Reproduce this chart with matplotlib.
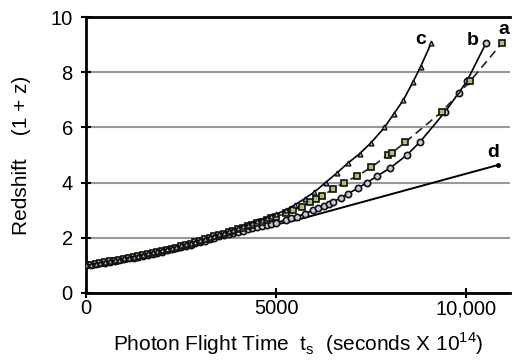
import matplotlib.pyplot as plt

plt.rcParams['font.family'] = ['Liberation Sans', 'DejaVu Sans']

# shared sample times for the dense low part (0 .. 5000)
t_low = [0, 125, 250, 375, 500, 625, 750, 875, 1000, 1125, 1250, 1375, 1500, 1625, 1750,
         1875, 2000, 2125, 2250, 2375, 2500, 2625, 2750, 2875, 3000, 3125, 3250, 3375, 3500,
         3625, 3750, 3875, 4000, 4125, 4250, 4375, 4500, 4625, 4750, 4875, 5000]

# curve c (triangles)
t_c = t_low + [5250, 5500, 5750, 6000, 6300, 6600, 6900, 7200, 7500, 7850, 8100, 8350,
               8600, 8800, 9080]
z_c = [1.00, 1.03, 1.06, 1.09, 1.12, 1.15, 1.18, 1.21, 1.25, 1.28, 1.32, 1.35, 1.39, 1.43,
       1.47, 1.51, 1.55, 1.59, 1.63, 1.67, 1.72, 1.76, 1.81, 1.86, 1.91, 1.96, 2.02, 2.07,
       2.12, 2.17, 2.23, 2.29, 2.35, 2.41, 2.48, 2.54, 2.60, 2.66, 2.73, 2.79, 2.86,
       3.00, 3.20, 3.42, 3.65, 4.00, 4.35, 4.72, 5.05, 5.45, 6.00, 6.50, 7.00, 7.65, 8.20, 9.06]

# curve a (squares, dashed)
t_a = t_low + [5250, 5450, 5675, 5900, 6050, 6200, 6500, 6780, 7120, 7500, 7930, 8050,
               8400, 9360, 10105, 10947]
z_a = [1.00, 1.02, 1.05, 1.08, 1.11, 1.14, 1.17, 1.20, 1.24, 1.27, 1.30, 1.33, 1.37, 1.40,
       1.44, 1.48, 1.52, 1.56, 1.60, 1.64, 1.69, 1.74, 1.79, 1.84, 1.89, 1.94, 2.00, 2.05,
       2.10, 2.15, 2.20, 2.25, 2.31, 2.36, 2.42, 2.47, 2.53, 2.58, 2.64, 2.70, 2.76,
       2.89, 3.00, 3.13, 3.30, 3.40, 3.52, 3.76, 4.00, 4.23, 4.55, 5.00, 5.08, 5.47, 6.57,
       7.68, 9.07]

# curve b (circles)
t_b = t_low + [5250, 5400, 5544, 5750, 5970, 6100, 6250, 6400, 6509, 6700, 6900, 7150,
               7390, 7650, 8000, 8440, 8789, 9447, 9798, 10018, 10526]
z_b = [1.00, 1.02, 1.05, 1.07, 1.10, 1.13, 1.16, 1.19, 1.22, 1.25, 1.28, 1.31, 1.35, 1.38,
       1.42, 1.46, 1.50, 1.54, 1.58, 1.62, 1.66, 1.70, 1.75, 1.80, 1.85, 1.90, 1.96, 2.00,
       2.05, 2.09, 2.13, 2.18, 2.22, 2.26, 2.30, 2.34, 2.38, 2.42, 2.46, 2.50, 2.55,
       2.64, 2.70, 2.76, 2.87, 3.00, 3.08, 3.15, 3.24, 3.31, 3.45, 3.60, 3.80,
       4.00, 4.23, 4.53, 5.00, 5.48, 6.57, 7.24, 7.68, 9.07]

# curve d (plain line)
t_d = [0, 500, 1000, 1500, 2000, 2500, 3000, 3500, 4000, 4500, 5000, 5500, 10842]
z_d = [1.00, 1.10, 1.21, 1.34, 1.48, 1.64, 1.82, 2.02, 2.20, 2.35, 2.48, 2.63, 4.64]

curve_labels = ['a', 'b', 'c', 'd']
label_pos = [(10990, 9.55), (10180, 9.15), (8800, 9.2), (10700, 5.1)]

fig = plt.figure(figsize=(5.12, 3.63), dpi=100)
ax = fig.add_axes([0.168, 0.193, 0.828, 0.760])

ax.plot(t_d, z_d, color='black', lw=1.4, zorder=3)
ax.plot(t_d[-1], z_d[-1], marker='o', ms=2.5, color='black', zorder=3)
ax.plot(t_b, z_b, color='black', lw=1.2, marker='o', ms=4.5, mfc='#c9c8dc', mec='#111111',
        mew=1.2, zorder=4)
ax.plot(t_a, z_a, color='#222222', lw=1.2, ls=(0, (5, 3)), marker='s', ms=4.5, mfc='#a9c46a',
        mec='#111111', mew=1.2, zorder=5)
ax.plot(t_c, z_c, color='black', lw=1.2, marker='^', ms=3.5, mfc='#9fb0d0', mec='#111111',
        mew=1.0, zorder=6)

for lab, (x, y) in zip(curve_labels, label_pos):
    ax.text(x, y, lab, fontsize=14, fontweight='bold', ha='center', va='center')

ax.set_xlim(0, 11150)
ax.set_ylim(0, 10)
ax.set_yticks([0, 2, 4, 6, 8, 10])
ax.set_xticks([0, 5000, 10000])
ax.set_xticklabels(['0', '5000', '10,000'])
ax.tick_params(axis='both', direction='inout', length=7, width=1.5, labelsize=14.5)
ax.tick_params(axis='x', pad=1)
ax.tick_params(axis='y', pad=6)
ax.yaxis.grid(True, color='#999999', lw=1.5)
ax.set_axisbelow(True)

for s in ['left', 'bottom', 'top']:
    ax.spines[s].set_linewidth(2)
ax.spines['right'].set_visible(False)

ax.set_ylabel('Redshift    (1 + z)', fontsize=15, labelpad=14)
ax.set_xlabel('Photon Flight Time  t$_{\\mathregular{s}}$  (seconds X 10$^{\\mathregular{14}}$)',
              fontsize=15, labelpad=9)

fig.savefig('out.png', dpi=100)
